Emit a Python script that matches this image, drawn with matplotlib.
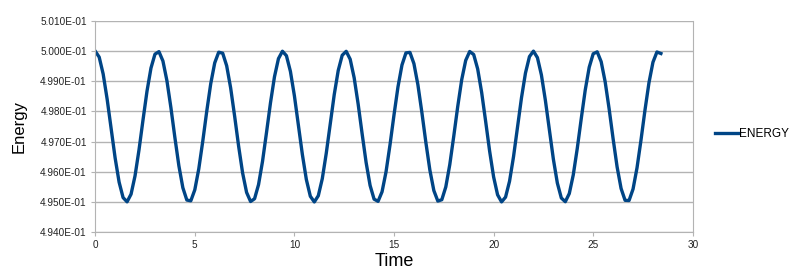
import matplotlib
matplotlib.use("Agg")
import matplotlib.pyplot as plt
from matplotlib.ticker import FuncFormatter, MultipleLocator

plt.rcParams['font.family'] = ['Liberation Sans', 'DejaVu Sans']

# ---------------------------
# DATA
# ---------------------------
time = [
    0.0, 0.2, 0.4, 0.6, 0.8, 1.0, 1.2, 1.4, 1.6, 1.8,
    2.0, 2.2, 2.4, 2.6, 2.8, 3.0, 3.2, 3.4, 3.6, 3.8,
    4.0, 4.2, 4.4, 4.6, 4.8, 5.0, 5.2, 5.4, 5.6, 5.8,
    6.0, 6.2, 6.4, 6.6, 6.8, 7.0, 7.2, 7.4, 7.6, 7.8,
    8.0, 8.2, 8.4, 8.6, 8.8, 9.0, 9.2, 9.4, 9.6, 9.8,
    10.0, 10.2, 10.4, 10.6, 10.8, 11.0, 11.2, 11.4, 11.6, 11.8,
    12.0, 12.2, 12.4, 12.6, 12.8, 13.0, 13.2, 13.4, 13.6, 13.8,
    14.0, 14.2, 14.4, 14.6, 14.8, 15.0, 15.2, 15.4, 15.6, 15.8,
    16.0, 16.2, 16.4, 16.6, 16.8, 17.0, 17.2, 17.4, 17.6, 17.8,
    18.0, 18.2, 18.4, 18.6, 18.8, 19.0, 19.2, 19.4, 19.6, 19.8,
    20.0, 20.2, 20.4, 20.6, 20.8, 21.0, 21.2, 21.4, 21.6, 21.8,
    22.0, 22.2, 22.4, 22.6, 22.8, 23.0, 23.2, 23.4, 23.6, 23.8,
    24.0, 24.2, 24.4, 24.6, 24.8, 25.0, 25.2, 25.4, 25.6, 25.8,
    26.0, 26.2, 26.4, 26.6, 26.8, 27.0, 27.2, 27.4, 27.6, 27.8,
    28.0, 28.2, 28.4,
]

energy = [
    0.500000, 0.499803, 0.499242, 0.498406, 0.497427, 0.496460, 0.495657, 0.495144, 0.495004, 0.495258,
    0.495866, 0.496732, 0.497719, 0.498671, 0.499439, 0.499900, 0.499983, 0.499673, 0.499021, 0.498129,
    0.497136, 0.496202, 0.495472, 0.495063, 0.495038, 0.495402, 0.496098, 0.497014, 0.498007, 0.498921,
    0.499610, 0.499965, 0.499932, 0.499515, 0.498779, 0.497842, 0.496850, 0.495962, 0.495316, 0.495015,
    0.495106, 0.495575, 0.496348, 0.497303, 0.498289, 0.499151, 0.499752, 0.499997, 0.499848, 0.499328,
    0.498520, 0.497551, 0.496573, 0.495743, 0.495189, 0.495000, 0.495206, 0.495772, 0.496616, 0.497600,
    0.498560, 0.499358, 0.499863, 0.499994, 0.499732, 0.499117, 0.498247, 0.497259, 0.496309, 0.495547,
    0.495093, 0.495020, 0.495337, 0.495999, 0.496897, 0.497886, 0.498816, 0.499540, 0.499942, 0.499958,
    0.499586, 0.498884, 0.497964, 0.496971, 0.496060, 0.495379, 0.495030, 0.495074, 0.495498, 0.496238,
    0.497180, 0.498167, 0.499056, 0.499694, 0.499988, 0.499888, 0.499411, 0.498632, 0.497675, 0.496688,
    0.495833, 0.495237, 0.495002, 0.495160, 0.495686, 0.496500, 0.497477, 0.498454, 0.499274, 0.499819,
    0.500000, 0.499785, 0.499210, 0.498365, 0.497383, 0.496420, 0.495627, 0.495131, 0.495008, 0.495279,
    0.495900, 0.496774, 0.497762, 0.498709, 0.499466, 0.499912, 0.499977, 0.499651, 0.498985, 0.498085,
    0.497092, 0.496162, 0.495446, 0.495054, 0.495048, 0.495427, 0.496134, 0.497056, 0.498049, 0.498955,
    0.499633, 0.499972, 0.499921,
]

LINE_COLOR = "#004586"
GRID_COLOR = "#b3b3b3"


def sci_label(v, pos):
    # формат как в LibreOffice: 5.010E-01
    mant = v * 10
    return f"{mant:.3f}E-01"


fig = plt.figure(figsize=(8.0, 2.76), dpi=100)
ax = fig.add_axes([0.119, 0.159, 0.747, 0.765])

ax.plot(time, energy, '-', color=LINE_COLOR, linewidth=2.4, label="ENERGY")

ax.set_xlim(0, 30)
ax.set_ylim(0.494, 0.501)
ax.xaxis.set_major_locator(MultipleLocator(5))
ax.yaxis.set_major_locator(MultipleLocator(0.001))
ax.yaxis.set_major_formatter(FuncFormatter(sci_label))

ax.grid(axis='y', color=GRID_COLOR, linewidth=1.0)
ax.set_axisbelow(True)
for side in ["left", "right", "bottom"]:
    ax.spines[side].set_color(GRID_COLOR)
ax.spines["top"].set_visible(False)

ax.tick_params(axis='both', direction='out', length=3, color=GRID_COLOR,
               labelsize=7.2, labelcolor="#222222", pad=3)

ax.set_xlabel("Time", fontsize=13, labelpad=2)
ax.set_ylabel("Energy", fontsize=12, labelpad=10)

ax.legend(loc="center left", bbox_to_anchor=(1.037, 0.465), frameon=False,
          fontsize=8.5, handlelength=2.0, handletextpad=0.0,
          borderaxespad=0.0, borderpad=0.0)

fig.savefig("out.png", dpi=100)
